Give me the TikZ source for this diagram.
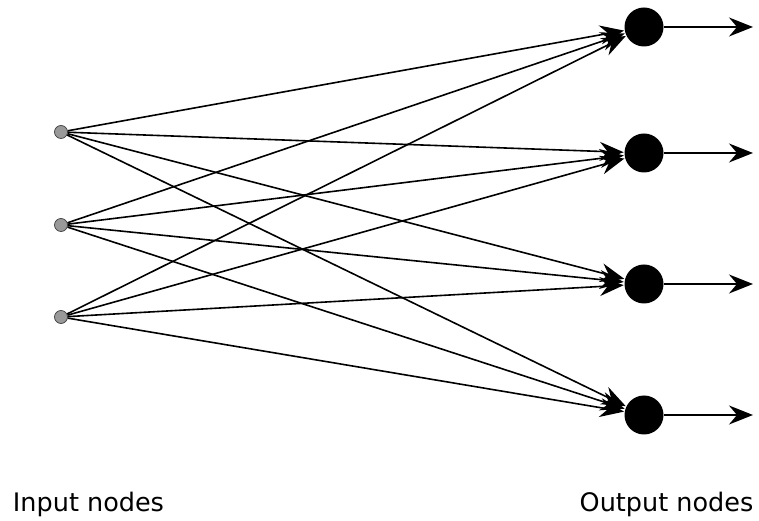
\documentclass[tikz,border=0pt]{standalone}
\usepackage{fontspec}
\setmainfont{DejaVu Sans}
\usetikzlibrary{arrows.meta}
\begin{document}
\begin{tikzpicture}[>={Stealth[length=24bp,width=19bp,inset=8bp]},line join=bevel,line width=1.6bp,
  innode/.style={circle,draw=black!75,line width=0.7bp,fill=black!40,inner sep=0pt,minimum size=13bp},
  outnode/.style={circle,fill=black,inner sep=0pt,minimum size=39bp},
  lbl/.style={anchor=base,inner sep=0pt,font=\fontsize{25.5bp}{30bp}\selectfont}]
\useasboundingbox (0bp,0bp) rectangle (759bp,521bp);
%%
\node (in1) at (61bp,389bp) [innode] {};
  \node (in2) at (61bp,296bp) [innode] {};
  \node (in3) at (61bp,204bp) [innode] {};
  \node (out1) at (644bp,494bp) [outnode] {};
  \node (out2) at (644bp,368bp) [outnode] {};
  \node (out3) at (644bp,237bp) [outnode] {};
  \node (out4) at (644bp,106bp) [outnode] {};
  \coordinate (end1) at (753bp,494bp);
  \coordinate (end2) at (753bp,368bp);
  \coordinate (end3) at (753bp,237bp);
  \coordinate (end4) at (753bp,106bp);
  \node (inlabel) at (88.5bp,10bp) [lbl] {Input nodes};
  \node (outlabel) at (666.5bp,10bp) [lbl] {Output nodes};
  \draw [black,->] (in1) -- (out1);
  \draw [black,->] (in1) -- (out2);
  \draw [black,->] (in1) -- (out3);
  \draw [black,->] (in1) -- (out4);
  \draw [black,->] (in2) -- (out1);
  \draw [black,->] (in2) -- (out2);
  \draw [black,->] (in2) -- (out3);
  \draw [black,->] (in2) -- (out4);
  \draw [black,->] (in3) -- (out1);
  \draw [black,->] (in3) -- (out2);
  \draw [black,->] (in3) -- (out3);
  \draw [black,->] (in3) -- (out4);
  \draw [black,->] (out1) -- (end1);
  \draw [black,->] (out2) -- (end2);
  \draw [black,->] (out3) -- (end3);
  \draw [black,->] (out4) -- (end4);
%
\end{tikzpicture}
\end{document}
